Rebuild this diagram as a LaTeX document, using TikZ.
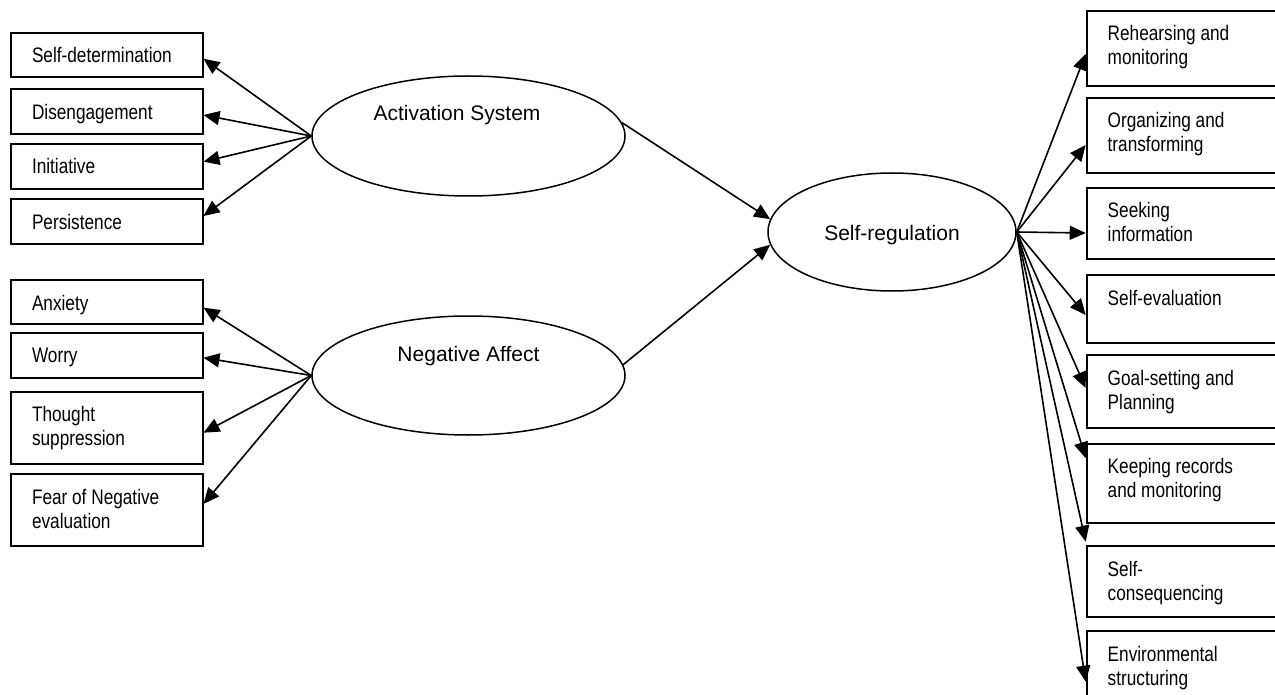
\documentclass[tikz,border=0pt]{standalone}
\usepackage{fontspec}
\setmainfont{Liberation Sans}
\newfontfamily\narrowfont[FakeStretch=0.82]{Liberation Sans}
\usetikzlibrary{arrows.meta,shapes.geometric}
\newcommand\boxtext[3]{\parbox[c][#2][t]{#1}{\narrowfont\fontsize{21}{24}\selectfont\leftskip=21pt\rightskip=0pt plus 1fil\parindent=0pt\rule{0pt}{30pt}#3}}
\begin{document}
\begin{tikzpicture}[x=1pt,y=-1pt,
  box/.style={draw, rectangle, line width=2pt, inner sep=0pt, anchor=north west},
  lat/.style={draw, ellipse, line width=1.5pt, inner sep=0pt},
  lbl/.style={anchor=base, inner sep=0pt, font=\fontsize{21}{24}\selectfont},
  arr/.style={-{Triangle[length=16pt,width=14pt]}, line width=1.6pt}]
\useasboundingbox (0,0) rectangle (1275,695);
% latent ellipses
\node[lat, minimum width=313pt, minimum height=120pt] (AS) at (468.5,136) {};
\node[lat, minimum width=313pt, minimum height=119pt] (NA) at (468.5,375.5) {};
\node[lat, minimum width=248pt, minimum height=118pt] (SR) at (892,232) {};
\node[lbl] (AStxt) at (457,121) {Activation System};
\node[lbl] (NAtxt) at (468.5,361.7) {Negative Affect};
\node[lbl] (SRtxt) at (892,241) {Self-regulation};
% left boxes
\node[box] (sd)  at (10,32)    {\boxtext{191.5pt}{44pt}{Self-determination}};
\node[box] (dis) at (10,88.3)  {\boxtext{191.5pt}{45pt}{Disengagement}};
\node[box] (ini) at (10,142.7) {\boxtext{191.5pt}{45pt}{Initiative}};
\node[box] (per) at (10,198.3) {\boxtext{191.5pt}{45pt}{Persistence}};
\node[box] (anx) at (10,279)   {\boxtext{191.5pt}{44.3pt}{Anxiety}};
\node[box] (wor) at (10,331.7) {\boxtext{191.5pt}{45pt}{Worry}};
\node[box] (tho) at (10,390.7) {\boxtext{191.5pt}{72pt}{Thought\\suppression}};
\node[box] (fea) at (10,473.3) {\boxtext{191.5pt}{71.7pt}{Fear of Negative\\evaluation}};
% right boxes
\node[box] (reh) at (1085.7,10)    {\boxtext{200pt}{75pt}{Rehearsing and\\monitoring}};
\node[box] (org) at (1085.7,96.7)  {\boxtext{200pt}{75pt}{Organizing and\\transforming}};
\node[box] (see) at (1085.7,186.7) {\boxtext{200pt}{71.6pt}{Seeking\\information}};
\node[box] (sev) at (1085.7,274.3) {\boxtext{200pt}{67.4pt}{Self-evaluation}};
\node[box] (goa) at (1085.7,354.3) {\boxtext{200pt}{72.4pt}{Goal-setting and\\Planning}};
\node[box] (kee) at (1085.7,442.7) {\boxtext{200pt}{79pt}{Keeping records\\and monitoring}};
\node[box] (sco) at (1085.7,545)   {\boxtext{200pt}{71.3pt}{Self-\\consequencing}};
\node[box] (env) at (1085.7,630)   {\boxtext{200pt}{80pt}{Environmental\\structuring}};
% arrows left
\draw[arr] (AS.west) -- ([yshift=-3.75pt]sd.east);
\draw[arr] (AS.west) -- ([yshift=-3.2pt]dis.east);
\draw[arr] (AS.west) -- ([yshift=4.5pt]ini.east);
\draw[arr] (AS.west) -- ([yshift=5.8pt]per.east);
\draw[arr] (NA.west) -- ([yshift=-5.5pt]anx.east);
\draw[arr] (NA.west) -- ([yshift=-2.5pt]wor.east);
\draw[arr] (NA.west) -- ([yshift=-5pt]tho.east);
\draw[arr] (NA.west) -- ([yshift=6.2pt]fea.east);
% arrows to self-regulation
\draw[arr] (AS.5) -- (SR.174);
\draw[arr] (NA.4) -- (SR.186);
% arrows right
\draw[arr] (SR.east) -- ([yshift=-44pt]reh.north west);
\draw[arr] (SR.east) -- ([yshift=-48.3pt]org.north west);
\draw[arr] (SR.east) -- ([yshift=-46.3pt]see.north west);
\draw[arr] (SR.east) -- ([yshift=-40.7pt]sev.north west);
\draw[arr] (SR.east) -- ([yshift=-33.7pt]goa.north west);
\draw[arr] (SR.east) -- ([yshift=-15.5pt]kee.north west);
\draw[arr] (SR.east) -- ([yshift=3.3pt]sco.north west);
\draw[arr] (SR.east) -- ([yshift=-51.7pt]env.north west);
\end{tikzpicture}
\end{document}
